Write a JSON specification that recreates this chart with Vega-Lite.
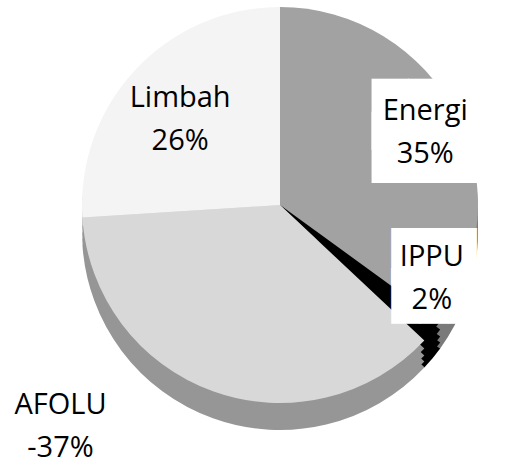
{
  "$schema": "https://vega.github.io/schema/vega-lite/v6.json",
  "width": 500,
  "height": 430,
  "autosize": "none",
  "padding": {"left": 30, "top": 0, "right": 0, "bottom": 30},
  "background": "white",
  "view": {"stroke": null},
  "data": {
    "values": [
      {"cat": "Energi", "value": 35, "pct": "35%"},
      {"cat": "IPPU", "value": 2, "pct": "2%"},
      {"cat": "AFOLU", "value": 37, "pct": "-37%"},
      {"cat": "Limbah", "value": 26, "pct": "26%"}
    ]
  },
  "transform": [
    {"window": [{"op": "row_number", "as": "ord"}]},
    {"calculate": "datum.cat + '\\n' + datum.pct", "as": "label"}
  ],
  "encoding": {
    "theta": {"field": "value", "type": "quantitative", "stack": true},
    "order": {"field": "ord", "type": "quantitative"}
  },
  "layer": [
    {
      "mark": {"type": "arc", "radius": 198, "yOffset": 17},
      "encoding": {
        "color": {"field": "cat", "type": "nominal", "legend": null,
          "scale": {"domain": ["Energi", "IPPU", "AFOLU", "Limbah"], "range": ["#7a7a7a", "#000000", "#969696", "#c8c8c8"]}}
      }
    },
    {
      "mark": {"type": "arc", "radius": 198, "yOffset": 11},
      "encoding": {
        "color": {"field": "cat", "type": "nominal", "legend": null,
          "scale": {"domain": ["Energi", "IPPU", "AFOLU", "Limbah"], "range": ["#7a7a7a", "#000000", "#969696", "#c8c8c8"]}}
      }
    },
    {
      "mark": {"type": "arc", "radius": 198, "yOffset": 5},
      "encoding": {
        "color": {"field": "cat", "type": "nominal", "legend": null,
          "scale": {"domain": ["Energi", "IPPU", "AFOLU", "Limbah"], "range": ["#7a7a7a", "#000000", "#969696", "#c8c8c8"]}}
      }
    },
    {
      "mark": {"type": "arc", "radius": 198, "yOffset": -2},
      "encoding": {
        "color": {"field": "cat", "type": "nominal", "legend": null,
          "scale": {"domain": ["Energi", "IPPU", "AFOLU", "Limbah"], "range": ["#7a7a7a", "#000000", "#969696", "#c8c8c8"]}}
      }
    },
    {
      "mark": {"type": "arc", "radius": 198, "yOffset": -10},
      "encoding": {
        "fill": {"field": "cat", "type": "nominal", "legend": null,
          "scale": {"domain": ["Energi", "IPPU", "AFOLU", "Limbah"], "range": ["#a2a2a2", "#000000", "#d8d8d8", "#f4f4f4"]}}
      }
    },
    {
      "mark": {"type": "text", "radius": 163, "dx": 1, "dy": -24, "font": "DejaVu Sans Mono", "fontSize": 60, "lineHeight": 33, "lineBreak": "\n", "fill": "white", "align": "center", "baseline": "middle"},
      "encoding": {
        "text": {"condition": {"test": "datum.cat === 'Energi'", "value": "███\n███"}, "value": ""}
      }
    },
    {
      "mark": {"type": "text", "radius": 175, "dx": 19, "dy": -69, "font": "DejaVu Sans Mono", "fontSize": 47, "lineHeight": 40, "lineBreak": "\n", "fill": "white", "align": "center", "baseline": "middle"},
      "encoding": {
        "text": {"condition": {"test": "datum.cat === 'IPPU'", "value": "███\n███"}, "value": ""}
      }
    },
    {
      "mark": {"type": "text", "radius": 163, "dy": -30, "font": "Open Sans", "fontSize": 29, "lineHeight": 43, "lineBreak": "\n", "fill": "black", "align": "center", "baseline": "middle"},
      "encoding": {
        "text": {"condition": {"test": "datum.cat === 'Energi'", "field": "label", "type": "nominal"}, "value": ""}
      }
    },
    {
      "mark": {"type": "text", "radius": 175, "dx": 17, "dy": -70, "font": "Open Sans", "fontSize": 29, "lineHeight": 43, "lineBreak": "\n", "fill": "black", "align": "center", "baseline": "middle"},
      "encoding": {
        "text": {"condition": {"test": "datum.cat === 'IPPU'", "field": "label", "type": "nominal"}, "value": ""}
      }
    },
    {
      "mark": {"type": "text", "radius": 220, "dx": -145, "dy": -17, "font": "Open Sans", "fontSize": 29, "lineHeight": 43, "lineBreak": "\n", "fill": "black", "align": "center", "baseline": "middle"},
      "encoding": {
        "text": {"condition": {"test": "datum.cat === 'AFOLU'", "field": "label", "type": "nominal"}, "value": ""}
      }
    },
    {
      "mark": {"type": "text", "radius": 126, "dx": -8, "dy": -31, "font": "Open Sans", "fontSize": 29, "lineHeight": 43, "lineBreak": "\n", "fill": "black", "align": "center", "baseline": "middle"},
      "encoding": {
        "text": {"condition": {"test": "datum.cat === 'Limbah'", "field": "label", "type": "nominal"}, "value": ""}
      }
    }
  ],
  "resolve": {"scale": {"color": "independent", "fill": "independent"}}
}
